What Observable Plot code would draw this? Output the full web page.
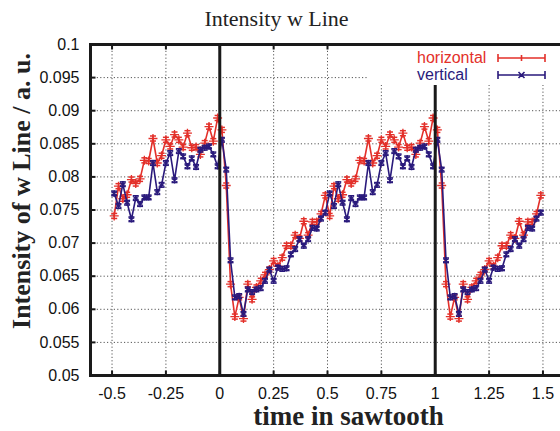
<!DOCTYPE html>
<html><head><meta charset="utf-8">
<script src="https://cdn.jsdelivr.net/npm/d3@7"></script>
<script src="https://cdn.jsdelivr.net/npm/@observablehq/plot@0.6"></script>
<style>
html,body{margin:0;padding:0;overflow:hidden;background:#fff;width:560px;height:431px}
#wrap{position:relative;width:560px;height:431px;overflow:hidden}
#wrap > svg{max-width:none !important;width:600px !important;height:431px !important;display:block}
#legend{position:absolute;left:367px;top:46px;width:200px;height:39px;background:#fff}
</style></head><body><div id="wrap"><div id="legend"></div></div>
<script>
const times = [-0.49,-0.47,-0.45,-0.43,-0.41,-0.39,-0.37,-0.35,-0.33,-0.31,-0.29,-0.27,-0.25,-0.23,-0.21,-0.19,-0.17,-0.15,-0.13,-0.11,-0.09,-0.07,-0.05,-0.03,-0.01,
0.01,0.03,0.05,0.07,0.09,0.11,0.13,0.15,0.17,0.19,0.21,0.23,0.25,0.27,0.29,0.31,0.33,0.35,0.37,0.39,0.41,0.43,0.45,0.47,0.49,
0.51,0.53,0.55,0.57,0.59,0.61,0.63,0.65,0.67,0.69,0.71,0.73,0.75,0.77,0.79,0.81,0.83,0.85,0.87,0.89,0.91,0.93,0.95,0.97,0.99,
1.01,1.03,1.05,1.07,1.09,1.11,1.13,1.15,1.17,1.19,1.21,1.23,1.25,1.27,1.29,1.31,1.33,1.35,1.37,1.39,1.41,1.43,1.45,1.47,1.49];

const horizontal = [0.0741,0.0786,0.0767,0.0773,0.0796,0.0790,0.0797,0.0825,0.0824,0.0858,0.0821,0.0832,0.0856,0.0846,0.0864,0.0856,0.0845,0.0866,0.0844,0.0845,0.0834,0.0851,0.0876,0.0854,0.0889,
0.0871,0.0787,0.0638,0.0589,0.0618,0.0586,0.0638,0.0615,0.0633,0.0643,0.0652,0.0660,0.0673,0.0665,0.0678,0.0696,0.0696,0.0712,0.0707,0.0733,0.0712,0.0732,0.0732,0.0744,0.0772,
0.0741,0.0786,0.0767,0.0773,0.0796,0.0790,0.0797,0.0825,0.0824,0.0858,0.0821,0.0832,0.0856,0.0846,0.0864,0.0856,0.0845,0.0866,0.0844,0.0845,0.0834,0.0851,0.0876,0.0854,0.0889,
0.0871,0.0787,0.0638,0.0589,0.0618,0.0586,0.0638,0.0615,0.0633,0.0643,0.0652,0.0660,0.0673,0.0665,0.0678,0.0696,0.0696,0.0712,0.0707,0.0733,0.0712,0.0732,0.0732,0.0744,0.0772];

const vertical = [0.0775,0.0756,0.0789,0.0761,0.0736,0.0768,0.0759,0.0769,0.0769,0.0821,0.0777,0.0788,0.0821,0.0836,0.0795,0.0839,0.0831,0.0816,0.0828,0.0815,0.0841,0.0844,0.0846,0.0834,0.0816,
0.0856,0.0811,0.0674,0.0618,0.0620,0.0593,0.0630,0.0626,0.0630,0.0632,0.0643,0.0660,0.0643,0.0663,0.0661,0.0662,0.0683,0.0691,0.0706,0.0696,0.0706,0.0723,0.0722,0.0737,0.0746,
0.0775,0.0756,0.0789,0.0761,0.0736,0.0768,0.0759,0.0769,0.0769,0.0821,0.0777,0.0788,0.0821,0.0836,0.0795,0.0839,0.0831,0.0816,0.0828,0.0815,0.0841,0.0844,0.0846,0.0834,0.0816,
0.0856,0.0811,0.0674,0.0618,0.0620,0.0593,0.0630,0.0626,0.0630,0.0632,0.0643,0.0660,0.0643,0.0663,0.0661,0.0662,0.0683,0.0691,0.0706,0.0696,0.0706,0.0723,0.0722,0.0737,0.0746];

const errHorizontal = 0.00038;
const errVertical = 0.00035;

const xTicks = [-0.5,-0.25,0,0.25,0.5,0.75,1,1.25,1.5];
const xTickLabels = ["-0.5","-0.25","0","0.25","0.5","0.75","1","1.25","1.5"];
const yTicks = [0.05,0.055,0.06,0.065,0.07,0.075,0.08,0.085,0.09,0.095,0.1];
const yTickLabels = ["0.05","0.055","0.06","0.065","0.07","0.075","0.08","0.085","0.09","0.095","0.1"];
const boundaries = [0, 1];
const seriesNames = ["horizontal", "vertical"];
const seriesColors = ["#e3302a", "#2a1a7c"];
const titleText = "Intensity w Line";
const xLabel = "time in sawtooth";
const yLabel = "Intensity of w Line / a. u.";

const rows = (vals, err) => times.map((t, i) => ({t, v: vals[i], lo: vals[i] - err, hi: vals[i] + err}));
const hData = rows(horizontal, errHorizontal);
const vData = rows(vertical, errVertical);

const capSym = {draw(ctx, size) { const r = Math.sqrt(size / Math.PI); ctx.moveTo(-r, 0); ctx.lineTo(r, 0); }};
const upTick = {draw(ctx, size) { const r = Math.sqrt(size / Math.PI); ctx.moveTo(0, 0); ctx.lineTo(0, -r); }};
const downTick = {draw(ctx, size) { const r = Math.sqrt(size / Math.PI); ctx.moveTo(0, 0); ctx.lineTo(0, r); }};
const rightTick = {draw(ctx, size) { const r = Math.sqrt(size / Math.PI); ctx.moveTo(0, 0); ctx.lineTo(r, 0); }};

function seriesMarks(data, color, sym) {
  return [
    Plot.line(data, {x: "t", y: "v", stroke: color, strokeWidth: 1.6}),
    Plot.ruleX(data, {x: "t", y1: "lo", y2: "hi", stroke: color, strokeWidth: 1.5}),
    Plot.dot(data, {x: "t", y: "lo", symbol: capSym, r: 3, stroke: color, fill: "none", strokeWidth: 1.5}),
    Plot.dot(data, {x: "t", y: "hi", symbol: capSym, r: 3, stroke: color, fill: "none", strokeWidth: 1.5}),
    Plot.dot(data, {x: "t", y: "v", symbol: sym, r: 3, stroke: color, fill: "none", strokeWidth: 1.3})
  ];
}

const serif = "'Liberation Serif', 'Times New Roman', serif";
const ink = "#1a1a1a";
const plot = Plot.plot({
  width: 600, height: 431,
  marginLeft: 90, marginRight: 36, marginTop: 44, marginBottom: 56,
  x: {domain: [-0.6, 1.6]},
  y: {domain: [0.05, 0.1]},
  style: {fontFamily: "'Liberation Sans', Arial, sans-serif", fontSize: "16px", color: "#111", background: "#fff", overflow: "visible", maxWidth: "none"},
  marks: [
    Plot.gridX(xTicks, {stroke: "#444", strokeOpacity: 0.9, strokeDasharray: "1.2,2.2", strokeWidth: 1}),
    Plot.gridY(yTicks, {stroke: "#444", strokeOpacity: 0.9, strokeDasharray: "1.2,2.2", strokeWidth: 1}),
    Plot.axisX(xTicks, {anchor: "bottom", tickSize: 0, tickPadding: 12, tickFormat: d => xTickLabels[xTicks.indexOf(d)], label: null}),
    Plot.axisY(yTicks, {anchor: "left", tickSize: 0, tickPadding: 11, tickFormat: d => yTickLabels[yTicks.indexOf(d)], label: null}),
    ...seriesMarks(hData, seriesColors[0], "plus"),
    ...seriesMarks(vData, seriesColors[1], "asterisk"),
    Plot.frame({stroke: ink, strokeWidth: 3}),
    Plot.ruleX(boundaries, {stroke: ink, strokeWidth: 3}),
    Plot.dot(xTicks, {x: d => d, frameAnchor: "bottom", symbol: upTick, r: 5, stroke: ink, strokeWidth: 2}),
    Plot.dot(xTicks, {x: d => d, frameAnchor: "top", symbol: downTick, r: 5, stroke: ink, strokeWidth: 2}),
    Plot.dot(yTicks, {y: d => d, frameAnchor: "left", symbol: rightTick, r: 5, stroke: ink, strokeWidth: 2}),
    Plot.text([titleText], {frameAnchor: "top", text: d => d, textAnchor: "middle", lineAnchor: "middle", dx: -51, dy: -26, fontFamily: serif, fontSize: 22, fill: "#222"}),
    Plot.text([xLabel], {frameAnchor: "bottom", text: d => d, textAnchor: "middle", lineAnchor: "middle", dx: 21, dy: 41, fontFamily: serif, fontWeight: "bold", fontSize: 27, fill: "#222"}),
    Plot.text([yLabel], {frameAnchor: "left", text: d => d, textAnchor: "middle", lineAnchor: "middle", rotate: -90, dx: -69, dy: -19, fontFamily: serif, fontWeight: "bold", fontSize: 26, fill: "#222"})
  ]
});
document.getElementById("wrap").prepend(plot);

// legend
const ns = "http://www.w3.org/2000/svg";
const lg = document.createElementNS(ns, "svg");
lg.setAttribute("width", 200); lg.setAttribute("height", 39);
const sampleX1 = 131, sampleX2 = 178, sampleMid = 154.5;
seriesNames.forEach((name, i) => {
  const c = seriesColors[i];
  const cy = 12 + i * 17;
  const t = document.createElementNS(ns, "text");
  t.setAttribute("x", 50); t.setAttribute("y", cy + 5);
  t.setAttribute("fill", c);
  t.setAttribute("font-family", "'Liberation Sans', Arial, sans-serif");
  t.setAttribute("font-size", "16");
  t.textContent = name;
  lg.appendChild(t);
  const p = document.createElementNS(ns, "path");
  let d = `M${sampleX1},${cy}H${sampleX2}M${sampleX1},${cy-4}V${cy+4}M${sampleX2},${cy-4}V${cy+4}`;
  if (i === 0) d += `M${sampleMid},${cy-3}V${cy+3}`;
  else d += `M${sampleMid-3},${cy-3}L${sampleMid+3},${cy+3}M${sampleMid-3},${cy+3}L${sampleMid+3},${cy-3}`;
  p.setAttribute("d", d); p.setAttribute("stroke", c); p.setAttribute("stroke-width", 1.6); p.setAttribute("fill", "none");
  lg.appendChild(p);
});
document.getElementById("legend").appendChild(lg);
</script></body></html>
